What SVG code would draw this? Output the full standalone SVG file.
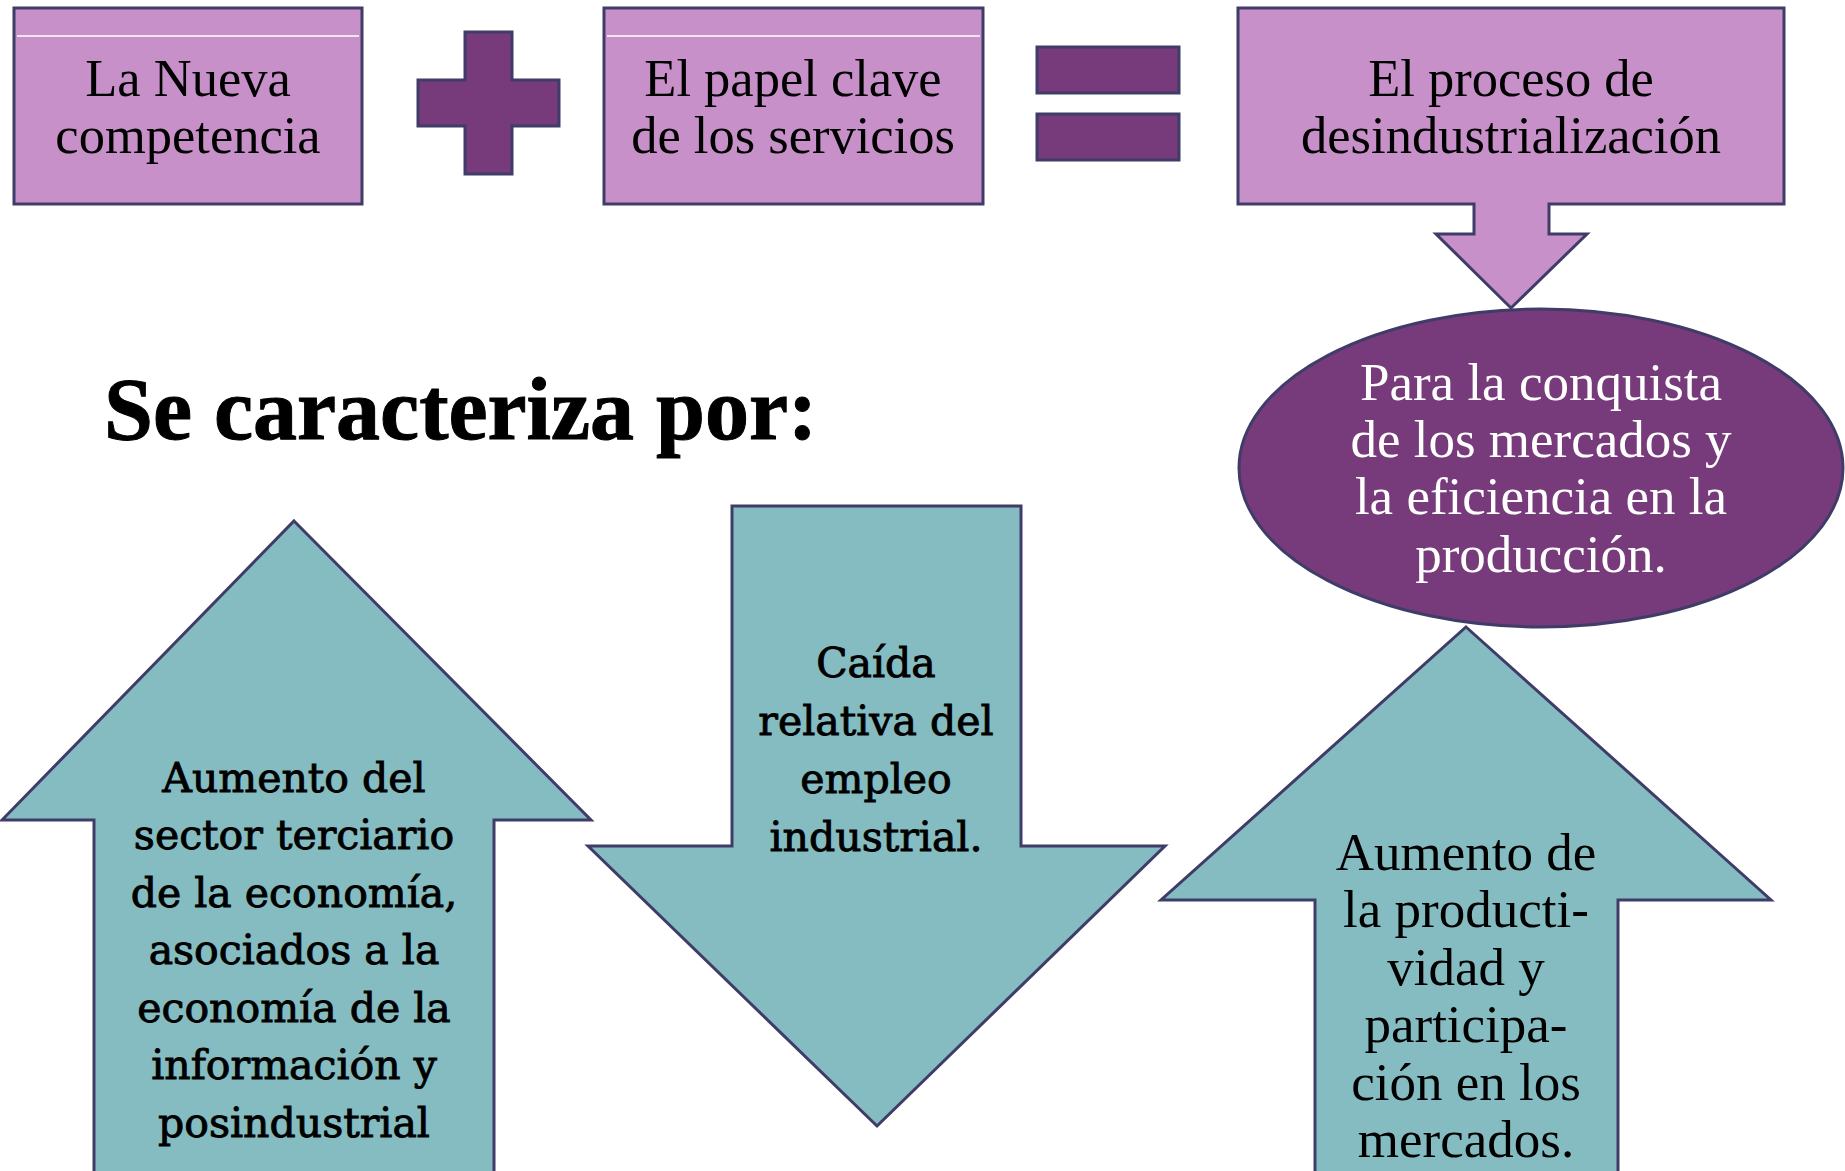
<svg xmlns="http://www.w3.org/2000/svg" width="1845" height="1171" viewBox="0 0 1845 1171">
  <style>
    .box { fill: #C890C8; stroke: #3F3C68; stroke-width: 3; stroke-linejoin: miter; }
    .sym { fill: #773A7A; stroke: #3F3C68; stroke-width: 3; }
    .arrow { fill: #84BCC1; stroke: #3F3C68; stroke-width: 3; stroke-linejoin: miter; }
    .hl { stroke: #FFFFFF; stroke-width: 1.5; }
    .t { font-family: "Liberation Serif", "Times New Roman", serif; font-size: 52.5px; fill: #000000; text-anchor: middle; }
    .tw { font-family: "Liberation Serif", "Times New Roman", serif; font-size: 53px; fill: #FFFFFF; text-anchor: middle; }
    .tr { font-family: "Liberation Serif", "Times New Roman", serif; font-size: 53px; fill: #000000; text-anchor: middle; }
    .tc { font-family: "DejaVu Serif", "Liberation Serif", serif; font-size: 41px; fill: #000000; stroke: #000000; stroke-width: 0.9; text-anchor: middle; }
    .head { font-family: "Liberation Serif", "Times New Roman", serif; font-size: 88px; font-weight: bold; fill: #000000; stroke: #000000; stroke-width: 1; }
  </style>
  <rect width="1845" height="1171" fill="#FFFFFF"/>

  <g id="node-nueva-competencia">
    <rect class="box" x="14" y="8" width="348" height="196"/>
    <line class="hl" x1="17" y1="36" x2="359" y2="36"/>
    <text class="t" x="188" y="96">La Nueva</text>
    <text class="t" x="188" y="153">competencia</text>
  </g>

  <g id="symbol-plus">
    <path class="sym" d="M465,32 H512 V80 H559 V126 H512 V174 H465 V126 H418 V80 H465 Z"/>
  </g>

  <g id="node-papel-servicios">
    <rect class="box" x="604" y="8" width="379" height="196"/>
    <line class="hl" x1="607" y1="36" x2="980" y2="36"/>
    <text class="t" x="793" y="96">El papel clave</text>
    <text class="t" x="793" y="153">de los servicios</text>
  </g>

  <g id="symbol-equals">
    <rect class="sym" x="1037" y="47" width="142" height="46"/>
    <rect class="sym" x="1037" y="114" width="142" height="46"/>
  </g>

  <g id="node-desindustrializacion">
    <path class="box" d="M1238,8 H1784 V204 H1549 V234 H1587 L1511,308 L1436,234 H1474 V204 H1238 Z"/>
    <text class="t" x="1511" y="96">El proceso de</text>
    <text class="t" x="1511" y="153">desindustrialización</text>
  </g>

  <g id="node-conquista">
    <ellipse class="sym" cx="1541" cy="468" rx="302" ry="159"/>
    <text class="tw" x="1541" y="400">Para la conquista</text>
    <text class="tw" x="1541" y="457">de los mercados y</text>
    <text class="tw" x="1541" y="514">la eficiencia en la</text>
    <text class="tw" x="1541" y="572">producción.</text>
  </g>

  <g id="heading">
    <text class="head" x="104" y="439">Se caracteriza por:</text>
  </g>

  <g id="node-aumento-terciario">
    <path class="arrow" d="M294,521 L591,820 H494 V1180 H94 V820 H2 Z"/>
    <text class="tc" x="294" y="792">Aumento del</text>
    <text class="tc" x="294" y="849">sector terciario</text>
    <text class="tc" x="294" y="907">de la economía,</text>
    <text class="tc" x="294" y="964">asociados a la</text>
    <text class="tc" x="294" y="1022">economía de la</text>
    <text class="tc" x="294" y="1079">información y</text>
    <text class="tc" x="294" y="1137">posindustrial</text>
  </g>

  <g id="node-caida-empleo">
    <path class="arrow" d="M732,506 H1021 V846 H1165 L877,1126 L588,846 H732 Z"/>
    <text class="tc" x="876" y="677">Caída</text>
    <text class="tc" x="876" y="735">relativa del</text>
    <text class="tc" x="876" y="793">empleo</text>
    <text class="tc" x="876" y="851">industrial.</text>
  </g>

  <g id="node-aumento-productividad">
    <path class="arrow" d="M1466,627 L1771,900 H1618 V1180 H1315 V900 H1161 Z"/>
    <text class="tr" x="1466" y="870">Aumento de</text>
    <text class="tr" x="1466" y="927">la producti-</text>
    <text class="tr" x="1466" y="985">vidad y</text>
    <text class="tr" x="1466" y="1042">participa-</text>
    <text class="tr" x="1466" y="1100">ción en los</text>
    <text class="tr" x="1466" y="1157">mercados.</text>
  </g>

  <g id="connectors"></g>
</svg>
